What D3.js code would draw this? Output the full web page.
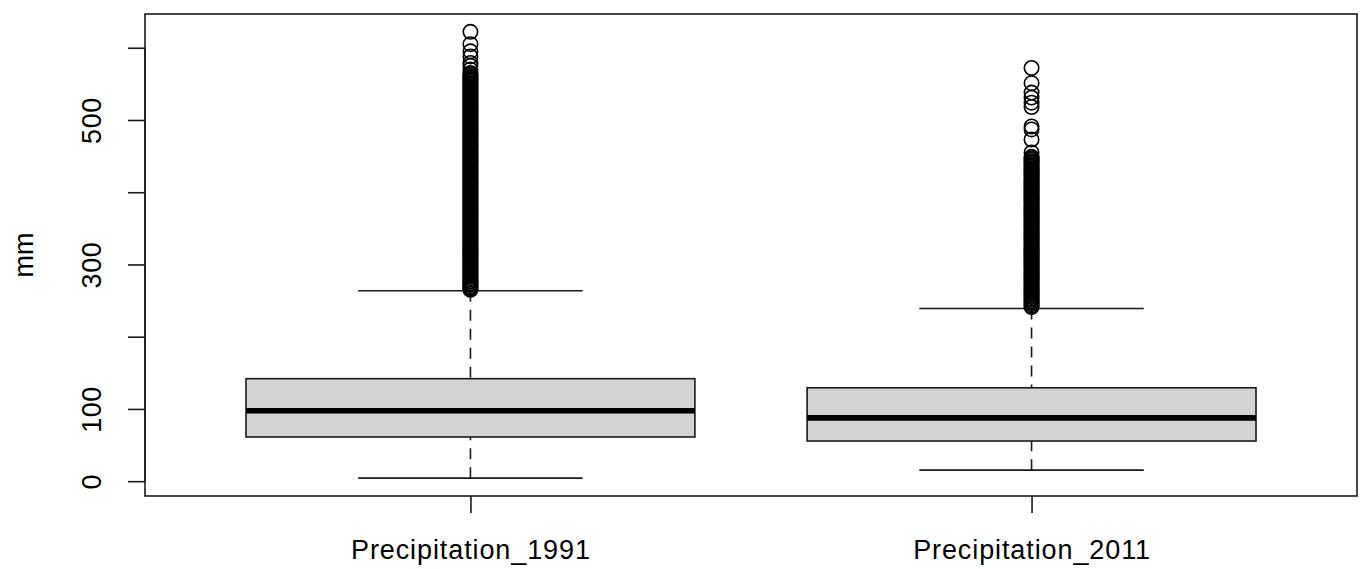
<!DOCTYPE html>
<html>
<head>
<meta charset="utf-8">
<script src="https://cdn.jsdelivr.net/npm/d3@7"></script>
<style>
  html, body { margin: 0; padding: 0; background: #fff; }
  svg { display: block; }
  text { font-family: "Liberation Sans", Arial, Helvetica, sans-serif; fill: #000; }
</style>
</head>
<body>
<svg id="chart" width="1360" height="569"></svg>
<script>
// ---- data ----
const categories = ["Precipitation_1991", "Precipitation_2011"];
// five-number summaries: lower whisker, Q1, median, Q3, upper whisker
const lowerWhisker = [4.2, 15.3];
const q1 = [61.2, 55.6];
const medians = [97.4, 87.6];
const q3 = [141.9, 129.3];
const upperWhisker = [263.7, 239.0];

const outliers1991 = [265,267,268,270,272,274,276,277,279,281,283,285,287,289,291,293,295,297,299,
301,303,305,307,309,311,313,315,317,319,321,323,325,327,329,331,333,335,337,339,341,343,345,347,349,
351,353,355,357,359,361,363,365,367,369,371,373,375,377,379,381,383,385,387,389,391,393,395,397,399,
401,403,405,407,409,411,413,415,417,419,421,423,425,427,429,431,433,435,437,439,441,443,445,447,449,
451,453,455,457,459,461,463,465,467,469,471,473,475,477,479,481,483,485,487,489,491,493,495,497,499,
501,503,505,507,509,511,513,515,517,519,521,523,525,527,529,531,533,535,537,539,541,543,545,547,549,
551,553,555,557,559,561,563,565,570,575,579,588,595,605,622];
const outliers2011 = [241,243,245,247,249,251,253,255,257,259,261,263,265,267,269,271,273,275,277,279,
281,283,285,287,289,291,293,295,297,299,301,303,305,307,309,311,313,315,317,319,321,323,325,327,329,
331,333,335,337,339,341,343,345,347,349,351,353,355,357,359,361,363,365,367,369,371,373,375,377,379,
381,383,385,387,389,391,393,395,397,399,401,403,405,407,409,411,413,415,417,419,421,423,425,427,429,
431,433,435,437,439,441,443,445,447,449,455,473,487,491,518,524,531,538,551,572];
const outliers = [outliers1991, outliers2011];

const yTickValues = [0, 100, 200, 300, 400, 500, 600];
const yTickLabels = ["0", "100", "", "300", "", "500", ""];
const yAxisTitle = "mm";

// ---- layout ----
const svg = d3.select("#chart");
const plot = { left: 145, right: 1357, top: 14, bottom: 496 };
const FONT = 27;
const INK = "#1a1a1a";

// R-style 4% extension of the data range
const allVals = lowerWhisker.concat(upperWhisker, outliers1991, outliers2011);
const lo = d3.min(allVals), hi = d3.max(allVals);
const pad = (hi - lo) * 0.04;
const y = d3.scaleLinear().domain([lo - pad, hi + pad]).range([plot.bottom, plot.top]);

const idx = categories.map((d, i) => i + 1);
const xPad = (idx.length + 0.5 - 0.5) * 0.04;
const x = d3.scaleLinear().domain([0.5 - xPad, idx.length + 0.5 + xPad]).range([plot.left, plot.right]);

const boxHalf = 0.4;     // boxwex 0.8
const stapleHalf = 0.2;  // staplewex 0.5

const g = svg.append("g");

categories.forEach((cat, i) => {
  const cx = x(i + 1);
  const bx0 = x(i + 1 - boxHalf), bx1 = x(i + 1 + boxHalf);
  const sx0 = x(i + 1 - stapleHalf), sx1 = x(i + 1 + stapleHalf);

  // whiskers (dashed), drawn from the whisker end to the box
  g.append("line").attr("x1", cx).attr("x2", cx)
    .attr("y1", y(lowerWhisker[i])).attr("y2", y(q1[i]))
    .attr("stroke", INK).attr("stroke-width", 1.6).attr("stroke-dasharray", "11,8");
  g.append("line").attr("x1", cx).attr("x2", cx)
    .attr("y1", y(upperWhisker[i])).attr("y2", y(q3[i]))
    .attr("stroke", INK).attr("stroke-width", 1.6).attr("stroke-dasharray", "11,8");

  // staples
  [lowerWhisker[i], upperWhisker[i]].forEach(v => {
    g.append("line").attr("x1", sx0).attr("x2", sx1)
      .attr("y1", y(v)).attr("y2", y(v))
      .attr("stroke", INK).attr("stroke-width", 1.6);
  });

  // box
  g.append("rect").attr("x", bx0).attr("y", y(q3[i]))
    .attr("width", bx1 - bx0).attr("height", y(q1[i]) - y(q3[i]))
    .attr("fill", "#d3d3d3").attr("stroke", INK).attr("stroke-width", 1.6);

  // median
  g.append("line").attr("x1", bx0).attr("x2", bx1)
    .attr("y1", y(medians[i])).attr("y2", y(medians[i]))
    .attr("stroke", "#000").attr("stroke-width", 5.6);

  // outliers
  g.selectAll(null).data(outliers[i]).enter().append("circle")
    .attr("cx", cx).attr("cy", d => y(d)).attr("r", 7.2)
    .attr("fill", "none").attr("stroke", "#000").attr("stroke-width", 1.6);
});

// plot frame
svg.append("rect").attr("x", plot.left).attr("y", plot.top)
  .attr("width", plot.right - plot.left).attr("height", plot.bottom - plot.top)
  .attr("fill", "none").attr("stroke", INK).attr("stroke-width", 1.6);

// y axis
const yAxis = d3.axisLeft(y).tickValues(yTickValues)
  .tickFormat((d, i) => yTickLabels[i]).tickSize(17).tickSizeOuter(0).tickPadding(10);
const ya = svg.append("g").attr("transform", `translate(${plot.left},0)`).call(yAxis);
ya.select(".domain").remove();
ya.append("line").attr("x1", 0).attr("x2", 0)
  .attr("y1", y(yTickValues[0])).attr("y2", y(yTickValues[yTickValues.length - 1]))
  .attr("stroke", INK).attr("stroke-width", 1.6);
ya.selectAll(".tick line").attr("stroke", INK).attr("stroke-width", 1.6);
ya.selectAll(".tick text")
  .attr("font-size", FONT).attr("font-family", "Liberation Sans, Arial, sans-serif")
  .attr("fill", "#000").attr("letter-spacing", "0.6px")
  .attr("text-anchor", "middle").attr("dy", null).attr("x", null)
  .attr("transform", "translate(-44,0) rotate(-90)");

// x axis
const xAxis = d3.axisBottom(x).tickValues(idx)
  .tickFormat((d, i) => categories[i]).tickSize(17).tickSizeOuter(0).tickPadding(30);
const xa = svg.append("g").attr("transform", `translate(0,${plot.bottom})`).call(xAxis);
xa.select(".domain").remove();
xa.selectAll(".tick line").attr("stroke", INK).attr("stroke-width", 1.6);
xa.selectAll(".tick text")
  .attr("font-size", FONT).attr("font-family", "Liberation Sans, Arial, sans-serif")
  .attr("fill", "#000").attr("letter-spacing", "0.9px").attr("dy", null).attr("y", 63);

// y axis title
svg.append("text")
  .attr("transform", `translate(33,${(plot.top + plot.bottom) / 2}) rotate(-90)`)
  .attr("text-anchor", "middle").attr("font-size", FONT)
  .text(yAxisTitle);
</script>
</body>
</html>
